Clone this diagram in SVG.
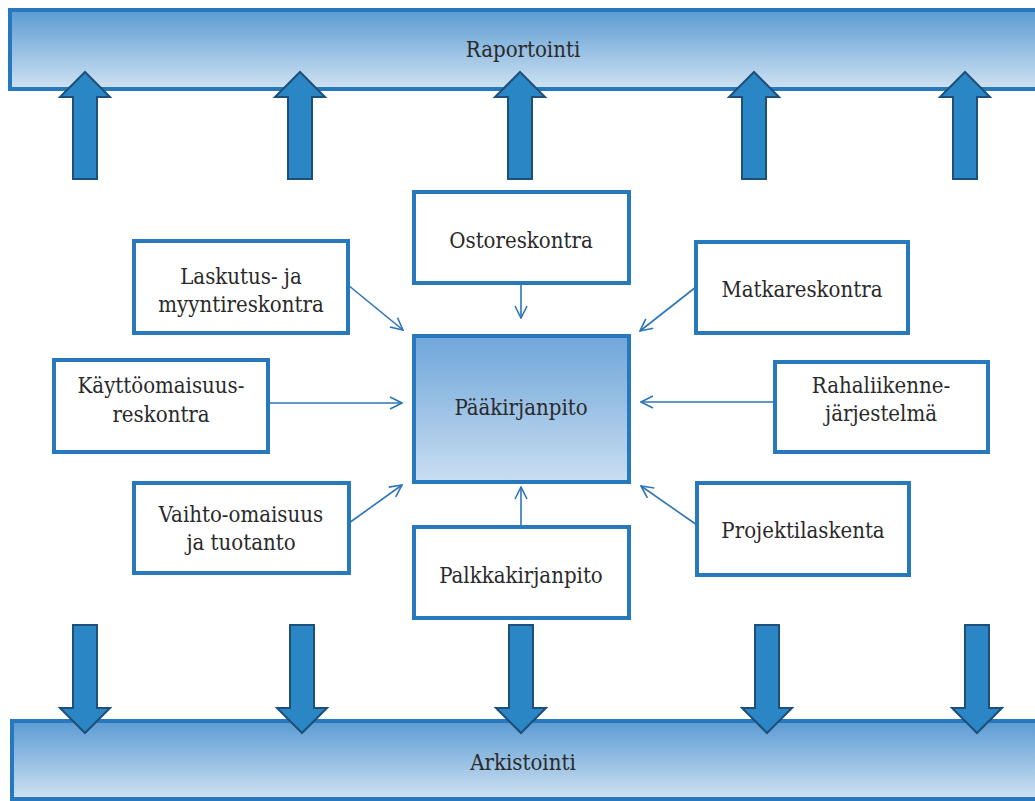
<svg xmlns="http://www.w3.org/2000/svg" width="1035" height="801" viewBox="0 0 1035 801">
<defs>
<linearGradient id="barGrad" x1="0" y1="0" x2="0" y2="1">
<stop offset="0" stop-color="#5b9bd3"/>
<stop offset="1" stop-color="#cfe2f2"/>
</linearGradient>
<linearGradient id="mainGrad" x1="0" y1="0" x2="0" y2="1">
<stop offset="0" stop-color="#6fa6da"/>
<stop offset="1" stop-color="#c9def1"/>
</linearGradient>
<marker id="open" viewBox="0 0 14 14" refX="13" refY="7" markerWidth="14" markerHeight="14" markerUnits="userSpaceOnUse" orient="auto">
<path d="M1,1 L13,7 L1,13" fill="none" stroke="#2e75b6" stroke-width="1.6"/>
</marker>
</defs>
<style>
.bar{fill:url(#barGrad);stroke:#2878bd;stroke-width:4}
.box{fill:#ffffff;stroke:#2878bd;stroke-width:4}
.main{fill:url(#mainGrad);stroke:#2878bd;stroke-width:4}
.blk{fill:#2b86c6;stroke:#1e4f78;stroke-width:2;stroke-linejoin:miter}
text{font-family:'DejaVu Serif Condensed','DejaVu Serif',serif;font-stretch:condensed;font-size:22px;fill:#2a2a2a;text-anchor:middle}
.con{fill:none;stroke:#2e75b6;stroke-width:1.6;marker-end:url(#open)}
</style>
<rect width="1035" height="801" fill="#ffffff"/>

<g id="raportointi">
<rect class="bar" x="10" y="10" width="1040" height="79"/>
<text x="523" y="57">Raportointi</text>
</g>
<g id="arkistointi">
<rect class="bar" x="12" y="721" width="1040" height="78"/>
<text x="523" y="770">Arkistointi</text>
</g>

<g id="up-arrows">
<path class="blk" d="M73,179 L73,97 L60,97 L85,72 L110,97 L97,97 L97,179 Z"/>
<path class="blk" d="M288,179 L288,97 L275,97 L300,72 L325,97 L312,97 L312,179 Z"/>
<path class="blk" d="M508,179 L508,97 L495,97 L520,72 L545,97 L532,97 L532,179 Z"/>
<path class="blk" d="M742,179 L742,97 L729,97 L754,72 L779,97 L766,97 L766,179 Z"/>
<path class="blk" d="M953,179 L953,97 L940,97 L965,72 L990,97 L977,97 L977,179 Z"/>
</g>
<g id="down-arrows">
<path class="blk" d="M73,625 L73,708 L60,708 L85,733 L110,708 L97,708 L97,625 Z"/>
<path class="blk" d="M290,625 L290,708 L277,708 L302,733 L327,708 L314,708 L314,625 Z"/>
<path class="blk" d="M509,625 L509,708 L496,708 L521,733 L546,708 L533,708 L533,625 Z"/>
<path class="blk" d="M755,625 L755,708 L742,708 L767,733 L792,708 L779,708 L779,625 Z"/>
<path class="blk" d="M965,625 L965,708 L952,708 L977,733 L1002,708 L989,708 L989,625 Z"/>
</g>

<g id="connectors">
<line class="con" x1="521" y1="285" x2="521" y2="318"/>
<line class="con" x1="521" y1="527" x2="521" y2="487"/>
<line class="con" x1="348" y1="285" x2="403" y2="330"/>
<line class="con" x1="268" y1="403" x2="402" y2="403"/>
<line class="con" x1="349" y1="523" x2="402" y2="485"/>
<line class="con" x1="696" y1="287" x2="640" y2="331"/>
<line class="con" x1="775" y1="402" x2="641" y2="402"/>
<line class="con" x1="697" y1="525" x2="641" y2="486"/>
</g>

<g id="ostoreskontra">
<rect class="box" x="414" y="192" width="215" height="91"/>
<text x="521" y="248">Ostoreskontra</text>
</g>
<g id="paakirjanpito">
<rect class="main" x="414" y="336" width="215" height="146"/>
<text x="521" y="415">Pääkirjanpito</text>
</g>
<g id="palkkakirjanpito">
<rect class="box" x="414" y="527" width="215" height="91"/>
<text x="521" y="583">Palkkakirjanpito</text>
</g>
<g id="laskutus">
<rect class="box" x="134" y="241" width="214" height="92"/>
<text x="241" y="284">Laskutus- ja</text>
<text x="241" y="312">myyntireskontra</text>
</g>
<g id="kayttoomaisuus">
<rect class="box" x="54" y="360" width="214" height="92"/>
<text x="161" y="393">Käyttöomaisuus-</text>
<text x="161" y="422">reskontra</text>
</g>
<g id="vaihto">
<rect class="box" x="134" y="483" width="215" height="90"/>
<text x="241" y="522">Vaihto-omaisuus</text>
<text x="241" y="550">ja tuotanto</text>
</g>
<g id="matkareskontra">
<rect class="box" x="696" y="242" width="212" height="91"/>
<text x="802" y="297">Matkareskontra</text>
</g>
<g id="rahaliikenne">
<rect class="box" x="775" y="362" width="213" height="90"/>
<text x="881" y="393">Rahaliikenne-</text>
<text x="881" y="421">järjestelmä</text>
</g>
<g id="projektilaskenta">
<rect class="box" x="697" y="483" width="212" height="92"/>
<text x="803" y="538">Projektilaskenta</text>
</g>
</svg>
